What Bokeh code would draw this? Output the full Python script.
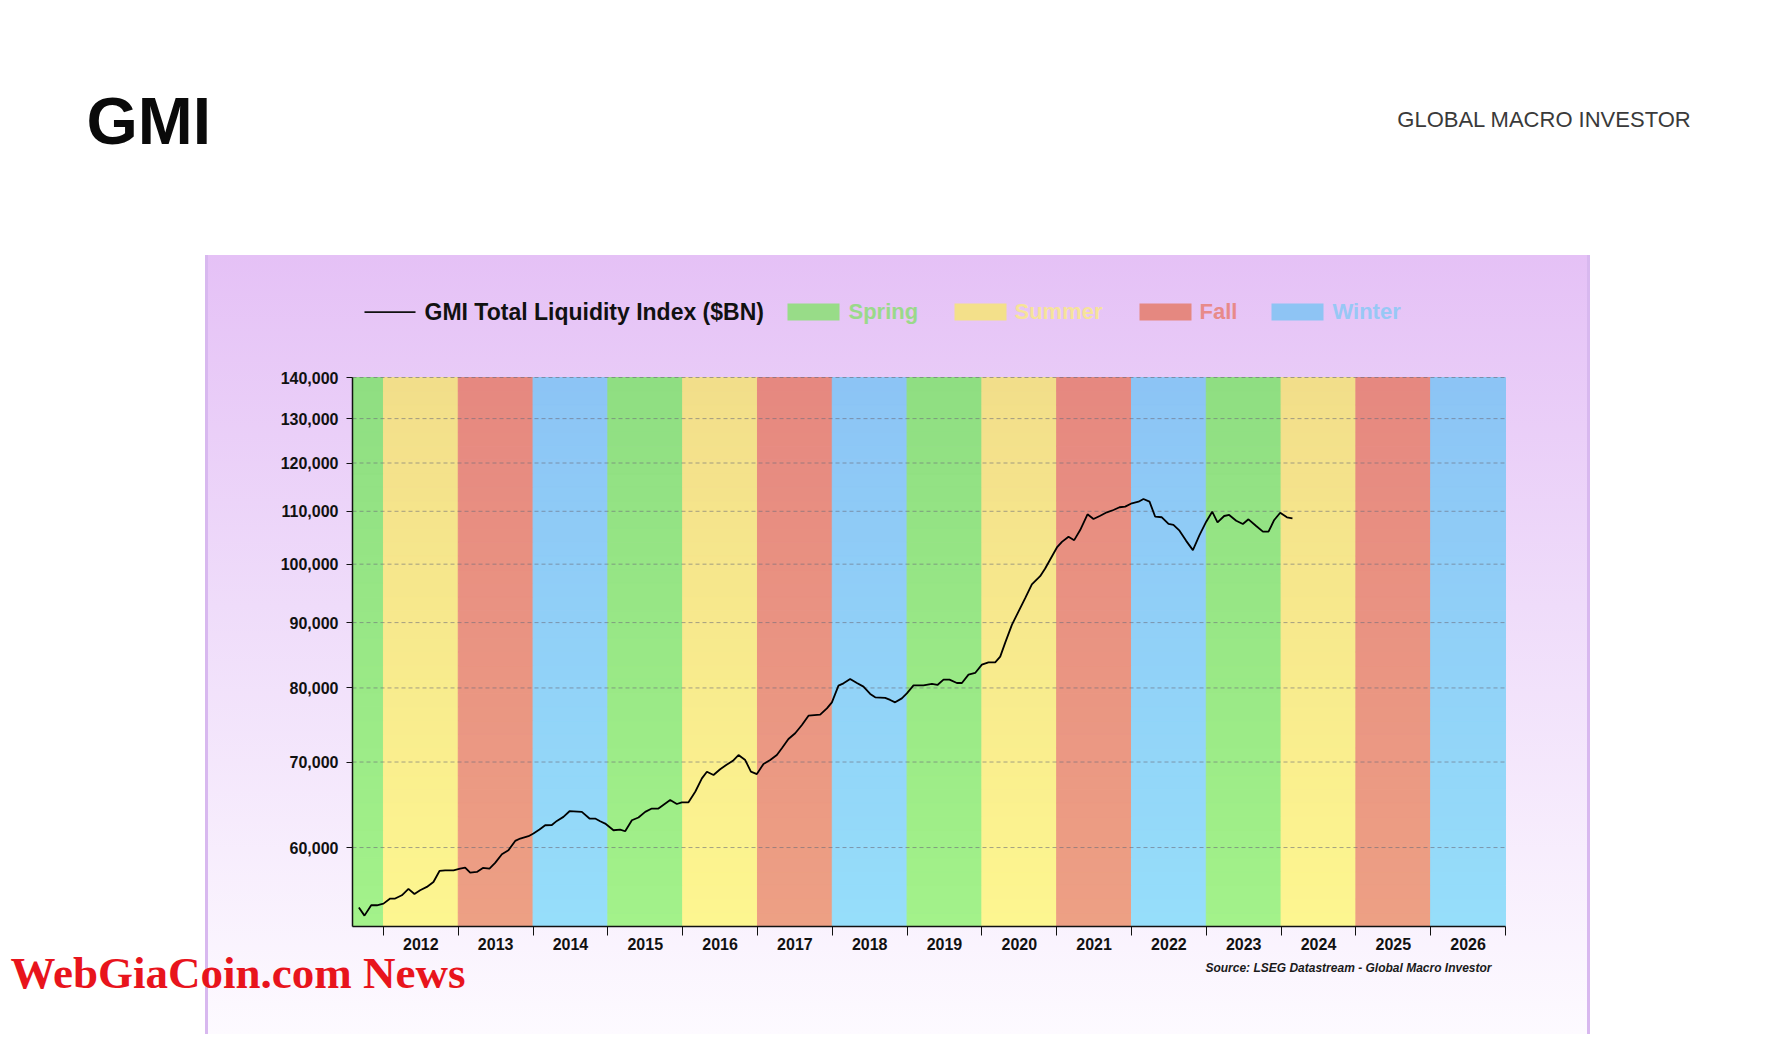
import math
from bokeh.plotting import figure
from bokeh.models import (Range1d, FixedTicker, NumeralTickFormatter, CustomJSTickFormatter,
                          Label, BoxAnnotation, ColumnDataSource)
from bokeh.embed import file_html
from bokeh.resources import INLINE

# ---------------- data ----------------
years = [
    2011.671, 2011.746, 2011.836, 2011.912, 2012.000, 2012.090, 2012.156, 2012.246, 2012.334, 2012.414,
    2012.490, 2012.580, 2012.668, 2012.749, 2012.825, 2012.936, 2013.025, 2013.092, 2013.159, 2013.249,
    2013.329, 2013.417, 2013.493, 2013.583, 2013.671, 2013.761, 2013.828, 2013.939, 2014.005, 2014.086,
    2014.162, 2014.251, 2014.318, 2014.406, 2014.487, 2014.652, 2014.754, 2014.830, 2014.897,
    2014.964, 2015.075, 2015.164, 2015.231, 2015.321, 2015.409, 2015.499, 2015.588, 2015.676, 2015.833,
    2015.922, 2015.989, 2016.078, 2016.168, 2016.257, 2016.324, 2016.412, 2016.501, 2016.582, 2016.671,
    2016.746, 2016.836, 2016.912, 2016.992, 2017.080, 2017.170, 2017.259, 2017.326, 2017.414, 2017.504,
    2017.594, 2017.682, 2017.838, 2017.928, 2017.995, 2018.083, 2018.150, 2018.239, 2018.329, 2018.417,
    2018.507, 2018.574, 2018.707, 2018.774,
    2018.840, 2018.930, 2018.997, 2019.086, 2019.219, 2019.332, 2019.406, 2019.487, 2019.567, 2019.666,
    2019.733, 2019.821, 2019.910, 2020.000, 2020.088, 2020.178, 2020.245, 2020.312, 2020.401, 2020.489,
    2020.579, 2020.668, 2020.779, 2020.846, 2020.913, 2021.003, 2021.070, 2021.158, 2021.234, 2021.314,
    2021.412, 2021.492, 2021.582, 2021.671, 2021.759, 2021.840, 2021.916, 2022.005, 2022.094, 2022.160,
    2022.241, 2022.317, 2022.406, 2022.495, 2022.561, 2022.642, 2022.731, 2022.821, 2022.909, 2022.999,
    2023.079, 2023.150, 2023.239, 2023.306, 2023.400, 2023.489, 2023.564, 2023.667, 2023.757, 2023.832,
    2023.908, 2023.988, 2024.078, 2024.152,
]
liquidity_bn = [
    53850, 53070, 54070, 54070, 54230, 54730, 54730, 55050, 55690, 55180,
    55560, 55890, 56390, 57520, 57590, 57590, 57770, 57870, 57350, 57420,
    57830, 57770, 58360, 59280, 59710, 60720, 60980, 61240, 61530, 61980,
    62460, 62490, 62950, 63410, 64060, 63980, 63220, 63220, 62910,
    62650, 61900, 61980, 61790, 63030, 63340, 63980, 64370, 64370, 65370,
    64900, 65100, 65100, 66350, 67970, 68790, 68380, 69090, 69620, 70160,
    70890, 70250, 68790, 68500, 69750, 70250, 70890, 71750, 72960, 73720,
    74830, 76100, 76240, 77110, 77950, 80330, 80670, 81310, 80720, 80190,
    79140, 78660, 78570, 78290,
    77950, 78510, 79220, 80380, 80380, 80580, 80430, 81210, 81210, 80720,
    80720, 81940, 82190, 83430, 83780, 83780, 84640, 86810, 89630, 91800,
    94050, 96410, 97860, 99230, 100850, 103060, 104100, 105050, 104420, 106350,
    109410, 108480, 109130, 109800, 110260, 110800, 110920, 111600, 111920, 112470,
    111920, 108930, 108820, 107510, 107320, 106220, 104290, 102560, 105370, 107960,
    109920, 107840, 109070, 109270, 108150, 107510, 108420, 107120, 106030, 106030,
    108290, 109720, 108820, 108620,
]
season_start_years = list(range(2011, 2027))
season_names = ["Spring", "Summer", "Fall", "Winter"] * 4
axis_years = list(range(2012, 2027))
y_ticks = [60000, 70000, 80000, 90000, 100000, 110000, 120000, 130000, 140000]
series_label = "GMI Total Liquidity Index ($BN)"
legend_seasons = ["Spring", "Summer", "Fall", "Winter"]
source_text = "Source: LSEG Datastream - Global Macro Investor"
logo_text = "GMI"
brand_text = "GLOBAL MACRO INVESTOR"
watermark_text = "WebGiaCoin.com News"

# ---------------- style / layout ----------------
W, H = 1770, 1058
FL, FB = 352, 926          # chart box left / bottom on the page
CR, CT = 1505, 377         # chart box right / top on the page
X0, X1 = 2011.586, 2027.0  # visible chart span (years)
Y0, Y1 = 52040, 140000     # visible chart span (log axis)

# the frame covers the whole page; axes are pinned to the chart box with fixed_location
px_per_year = (CR - FL) / (X1 - X0)
px_per_ln = (FB - CT) / math.log(Y1 / Y0)
X_START = X0 - FL / px_per_year
X_END = X1 + (W - CR) / px_per_year
Y_START = Y0 * math.exp(-(H - FB) / px_per_ln)
Y_END = Y1 * math.exp(CT / px_per_ln)

band_top = {"Spring": (143, 222, 130), "Summer": (242, 222, 138),
            "Fall": (230, 136, 128), "Winter": (140, 196, 245)}
band_bottom = {"Spring": (163, 242, 138), "Summer": (253, 246, 144),
               "Fall": (237, 160, 132), "Winter": (150, 222, 250)}
swatch_color = {"Spring": "#98dc88", "Summer": "#f3e08a", "Fall": "#e58880", "Winter": "#8ec4f4"}
label_color = {"Spring": "#9ad98a", "Summer": "#f6e39a", "Fall": "#e88a8a", "Winter": "#98c8f5"}

SANS = "Liberation Sans"


def sx(cx):
    return cx


def sy(cy):
    return H - cy


def mix(c0, c1, f):
    return "#%02x%02x%02x" % tuple(int(round(a + (b - a) * f)) for a, b in zip(c0, c1))


p = figure(width=W, height=H, x_range=Range1d(X_START, X_END), y_range=Range1d(Y_START, Y_END),
           y_axis_type="log", output_backend="svg", toolbar_location=None,
           min_border_left=0, min_border_right=0, min_border_top=0, min_border_bottom=0)
p.border_fill_color = None
p.background_fill_color = None
p.outline_line_color = None
p.styles = {
    "background": (
        "linear-gradient(#d8b8ef,#d8b8ef) 205px 255px/3px 779px no-repeat, "
        "linear-gradient(#d8b8ef,#d8b8ef) 1587px 255px/3px 779px no-repeat, "
        "linear-gradient(180deg,#e5c1f6 0%,#efdcfa 45%,#fdfaff 100%) 207px 255px/1382px 779px no-repeat, "
        "#ffffff"
    )
}

# season bands with vertical gradient
N = 40
lo, hi = math.log(Y0), math.log(Y1)
bl, br, bb, bt, bc = [], [], [], [], []
for yr, s in zip(season_start_years, season_names):
    for k in range(N):
        bl.append(max(yr, X0))
        br.append(yr + 1)
        bb.append(math.exp(lo + (hi - lo) * k / N))
        bt.append(math.exp(lo + (hi - lo) * (k + 1) / N))
        bc.append(mix(band_bottom[s], band_top[s], (k + 0.5) / N))
bsrc = ColumnDataSource(dict(left=bl, right=br, bottom=bb, top=bt, color=bc))
p.quad(left="left", right="right", bottom="bottom", top="top", fill_color="color",
       line_color="color", line_width=1, source=bsrc, level="image")

# horizontal dashed grid, limited to the chart box
p.xgrid.visible = False
p.ygrid.visible = False
p.segment(x0=X0, x1=X1, y0=y_ticks, y1=y_ticks, line_color="#6a6a7a", line_dash="4 3",
          line_alpha=0.6, line_width=1, level="underlay")

# data line
p.line(years, liquidity_bn, line_color="black", line_width=1.8)

# y axis
ya = p.yaxis[0]
ya.fixed_location = X0
ya.bounds = (Y0, Y1)
ya.ticker = FixedTicker(ticks=y_ticks)
ya.formatter = NumeralTickFormatter(format="0,0")
ya.axis_line_color = "#111111"
ya.axis_line_width = 1.5
ya.major_tick_out = 6
ya.major_tick_in = 0
ya.major_tick_line_color = "#111111"
ya.minor_tick_line_color = None
ya.major_label_standoff = 8
ya.major_label_text_font = SANS
ya.major_label_text_font_style = "bold"
ya.major_label_text_font_size = "16px"
ya.major_label_text_color = "#111111"

# x axis: labels at mid-year, ticks at year boundaries (minor ticks)
xa = p.xaxis[0]
xa.fixed_location = Y0
xa.bounds = (X0, X1)
xa.ticker = FixedTicker(ticks=[y + 0.5 for y in axis_years],
                        minor_ticks=axis_years + [axis_years[-1] + 1])
xa.formatter = CustomJSTickFormatter(code="return Math.floor(tick).toFixed(0);")
xa.axis_line_color = "#111111"
xa.axis_line_width = 1.5
xa.major_tick_line_color = None
xa.major_tick_out = 0
xa.major_tick_in = 0
xa.minor_tick_line_color = "#111111"
xa.minor_tick_out = 9
xa.minor_tick_in = 0
xa.major_label_standoff = 2
xa.major_label_text_font = SANS
xa.major_label_text_font_style = "bold"
xa.major_label_text_font_size = "16px"
xa.major_label_text_color = "#111111"


def screen_box(left, right, top, bottom, color):
    return BoxAnnotation(left=sx(left), right=sx(right), top=sy(top), bottom=sy(bottom),
                         left_units="screen", right_units="screen",
                         top_units="screen", bottom_units="screen",
                         fill_color=color, fill_alpha=1, line_color=None)


def screen_text(x, y, text, size, color, font=SANS, style="bold", align="left"):
    return Label(x=sx(x), y=sy(y), x_units="screen", y_units="screen", text=text,
                 text_font=font, text_font_style=style, text_font_size=size,
                 text_color=color, text_baseline="middle", text_align=align)


# legend (manual)
p.add_layout(screen_box(364, 415, 310.8, 312.5, "#111111"))
p.add_layout(screen_text(424, 311, series_label, "23px", "#111111"))
swatch_x = [787, 954, 1139, 1271]
text_x = [848, 1014, 1199, 1332]
for s, x0, tx in zip(legend_seasons, swatch_x, text_x):
    p.add_layout(screen_box(x0, x0 + 52, 303, 320, swatch_color[s]))
    p.add_layout(screen_text(tx, 311, s, "22px", label_color[s]))

# header
p.add_layout(screen_text(86, 120, logo_text, "66px", "#0a0a0a"))
p.add_layout(screen_text(1691, 119, brand_text, "22px", "#3a3a3a", style="normal", align="right"))

# source note
p.add_layout(screen_text(1491, 967, source_text, "12px", "#1a1a1a", style="bold italic",
                         align="right"))

# watermark
p.add_layout(screen_text(10, 972, watermark_text, "45px", "#e8141c", font="Liberation Serif"))

open("out.html", "w").write(file_html(p, INLINE))
